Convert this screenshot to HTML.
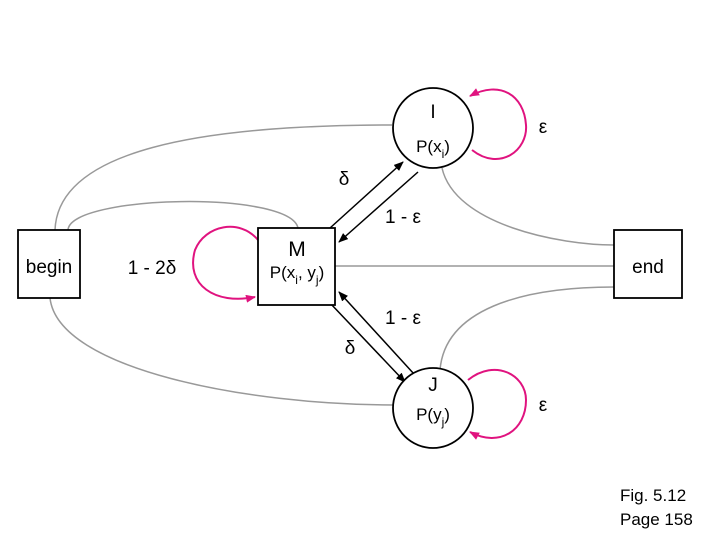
<!DOCTYPE html>
<html><head><meta charset="utf-8"><style>
body{margin:0;width:720px;height:540px;background:#fff;overflow:hidden}
svg text{font-family:"Liberation Sans",sans-serif;fill:#000}
</style></head><body>
<svg width="720" height="540" viewBox="0 0 720 540" xmlns="http://www.w3.org/2000/svg">
<defs>
<marker id="ab" markerWidth="10" markerHeight="8" refX="9" refY="4" orient="auto" markerUnits="userSpaceOnUse"><path d="M0,0 L10,4 L0,8 z" fill="#000"/></marker>
<marker id="am" markerWidth="10" markerHeight="8" refX="9" refY="4" orient="auto" markerUnits="userSpaceOnUse"><path d="M0,0 L10,4 L0,8 z" fill="#e0137f"/></marker>
</defs>
<g fill="none" stroke="#999" stroke-width="1.5">
<path d="M55,230 C58,150 200,125 392,125"/>
<path d="M68,230 C70,195 290,190 298,228"/>
<path d="M442,168 C455,225 560,245 614,245"/>
<path d="M335,266 L614,266"/>
<path d="M614,287 C520,287 445,310 440,370"/>
<path d="M50,298 C58,370 250,405 393,405"/>
</g>
<g fill="none" stroke="#e0137f" stroke-width="2">
<path d="M258,240 C240,218 205,225 195,250 C185,285 215,305 255,297" marker-end="url(#am)"/>
<path d="M472,150 C500,172 528,150 526,125 C524,95 500,80 470,96" marker-end="url(#am)"/>
<path d="M468,380 C495,358 526,375 526,400 C526,430 500,448 470,432" marker-end="url(#am)"/>
</g>
<g stroke="#000" stroke-width="1.5" fill="none">
<path d="M330,228 L403,162" marker-end="url(#ab)"/>
<path d="M418,172 L339,242" marker-end="url(#ab)"/>
<path d="M330,303 L405,382" marker-end="url(#ab)"/>
<path d="M414,374 L339,292" marker-end="url(#ab)"/>
</g>
<g fill="#fff" stroke="#000" stroke-width="1.8">
<rect x="18" y="230" width="62" height="68"/>
<rect x="258" y="228" width="77" height="77"/>
<rect x="614" y="230" width="68" height="68"/>
<circle cx="433" cy="128" r="40"/>
<circle cx="433" cy="408" r="40"/>
</g>
<g font-size="19" text-anchor="middle">
<text x="49" y="273">begin</text>
<text x="648" y="273">end</text>
<text x="297" y="256" font-size="21">M</text>
<text x="297" y="278" font-size="17">P(x<tspan font-size="12" dy="6">i</tspan><tspan dy="-6">, y</tspan><tspan font-size="12" dy="6">j</tspan><tspan dy="-6">)</tspan></text>
<text x="433" y="118">I</text>
<text x="433" y="152" font-size="17">P(x<tspan font-size="12" dy="6">i</tspan><tspan dy="-6">)</tspan></text>
<text x="433" y="391">J</text>
<text x="433" y="420" font-size="17">P(y<tspan font-size="12" dy="6">j</tspan><tspan dy="-6">)</tspan></text>
<text x="152" y="274">1 - 2δ</text>
<text x="344" y="185">δ</text>
<text x="403" y="223">1 - ε</text>
<text x="403" y="324">1 - ε</text>
<text x="350" y="354">δ</text>
<text x="543" y="133">ε</text>
<text x="543" y="411">ε</text>
</g>
<g font-size="17">
<text x="620" y="501">Fig. 5.12</text>
<text x="620" y="525">Page 158</text>
</g>
</svg>
</body></html>
